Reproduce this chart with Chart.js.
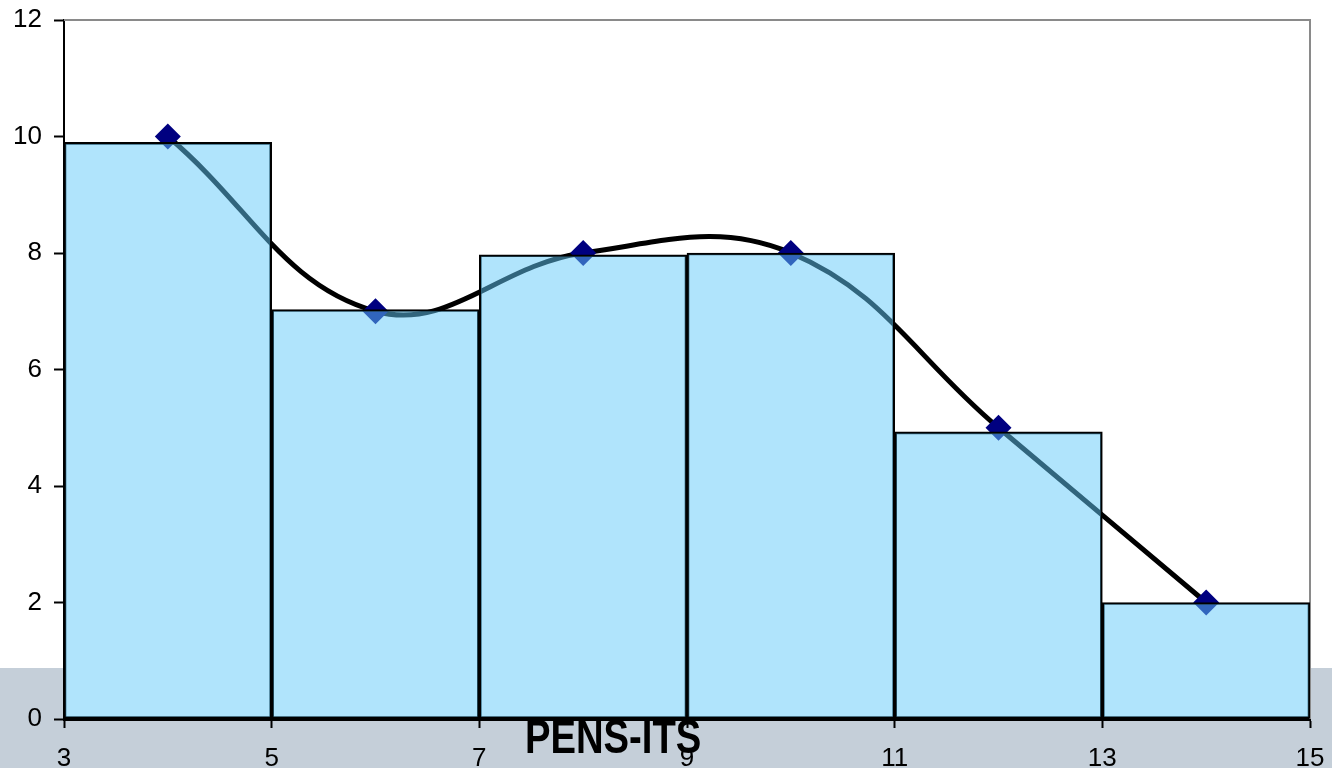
<!DOCTYPE html>
<html>
<head>
<meta charset="utf-8">
<script src="https://cdn.jsdelivr.net/npm/chart.js@4/dist/chart.umd.min.js"></script>
<style>
  html, body { margin: 0; padding: 0; background: #ffffff; }
  #wrap { position: relative; width: 1332px; height: 768px; overflow: hidden; }
  #band { position: absolute; left: 0; top: 668px; width: 1332px; height: 100px; background: #c5cfd9; }
  #chart { position: absolute; left: 0; top: 0; }
  #brand {
    position: absolute; left: 525px; top: 712px;
    font-family: "Liberation Sans", Arial, sans-serif; font-weight: bold;
    font-size: 49px; line-height: 49px; color: #000;
    transform: scaleX(0.78); transform-origin: 0 0; white-space: nowrap;
  }
</style>
</head>
<body>
<div id="wrap">
  <div id="band"></div>
  <canvas id="chart" width="1332" height="768"></canvas>
  <div id="brand">PENS-ITS</div>
</div>
<script>
// Class midpoints of the histogram bins (width 2)
const binMids = [4, 6, 8, 10, 12, 14];
// Bar heights (frequencies) of each bin
const barHeights = [9.9, 7.03, 7.97, 8.0, 4.93, 2.0];
// Frequency polygon values at the bin midpoints
const polygonValues = [10, 7, 8, 8, 5, 2];
// Axis tick labels
const xTicks = [3, 5, 7, 9, 11, 13, 15];
const yTicks = [0, 2, 4, 6, 8, 10, 12];

const barData = binMids.map((x, i) => ({ x: x, y: barHeights[i] }));
const lineData = binMids.map((x, i) => ({ x: x, y: polygonValues[i] }));

const tickFont = { family: "'Liberation Sans', Arial, sans-serif", size: 26 };

// keep the plot area fixed: drop the extra room reserved for edge labels
function noEdgePadding(scale) {
  scale.paddingTop = 0;
  scale.paddingBottom = 0;
  scale.paddingLeft = 0;
  scale.paddingRight = 0;
}

// White plot area plus grey top/right frame
const plotFrame = {
  id: 'plotFrame',
  beforeDraw(chart) {
    const a = chart.chartArea, ctx = chart.ctx;
    ctx.save();
    ctx.fillStyle = '#ffffff';
    ctx.fillRect(a.left, a.top, a.right - a.left, a.bottom - a.top);
    ctx.restore();
  },
  beforeDatasetsDraw(chart) {
    const a = chart.chartArea, ctx = chart.ctx;
    ctx.save();
    ctx.strokeStyle = '#8a8a8a';
    ctx.lineWidth = 2;
    ctx.beginPath();
    ctx.moveTo(a.left, a.top);
    ctx.lineTo(a.right, a.top);
    ctx.lineTo(a.right, a.bottom);
    ctx.stroke();
    ctx.restore();
  }
};

new Chart(document.getElementById('chart'), {
  type: 'bar',
  data: {
    datasets: [
      {
        type: 'bar',
        data: barData,
        order: 0,
        backgroundColor: 'rgba(98,202,250,0.5)',
        borderColor: '#000000',
        borderWidth: 2,
        borderSkipped: false,
        barPercentage: 1.0,
        categoryPercentage: 1.0
      },
      {
        type: 'line',
        data: lineData,
        order: 1,
        borderColor: '#000000',
        borderWidth: 5,
        tension: 0.4,
        fill: false,
        pointStyle: 'rectRot',
        pointRadius: 13,
        pointBackgroundColor: '#000080',
        pointBorderWidth: 0
      }
    ]
  },
  options: {
    responsive: false,
    animation: false,
    layout: { padding: { top: 20, right: 22, left: 0, bottom: 0 } },
    plugins: { legend: { display: false }, tooltip: { enabled: false } },
    scales: {
      x: {
        type: 'linear',
        min: 3,
        max: 15,
        offset: false,
        afterBuildTicks(scale) { scale.ticks = xTicks.map(v => ({ value: v })); },
        afterFit(scale) { scale.height = 49; noEdgePadding(scale); },
        grid: { offset: false, drawOnChartArea: false, drawTicks: true, tickLength: 9, tickColor: '#000', tickWidth: 2 },
        border: { display: true, color: '#000', width: 3 },
        ticks: { color: '#000', font: tickFont, padding: 15, maxRotation: 0, autoSkip: false }
      },
      y: {
        type: 'linear',
        min: 0,
        max: 12,
        afterBuildTicks(scale) { scale.ticks = yTicks.map(v => ({ value: v })); },
        afterFit(scale) { scale.width = 64; noEdgePadding(scale); },
        grid: { drawOnChartArea: false, drawTicks: true, tickLength: 10, tickColor: '#000', tickWidth: 2 },
        border: { display: true, color: '#000', width: 2 },
        ticks: { color: '#000', font: tickFont, padding: 12 }
      }
    }
  },
  plugins: [plotFrame]
});
</script>
</body>
</html>
